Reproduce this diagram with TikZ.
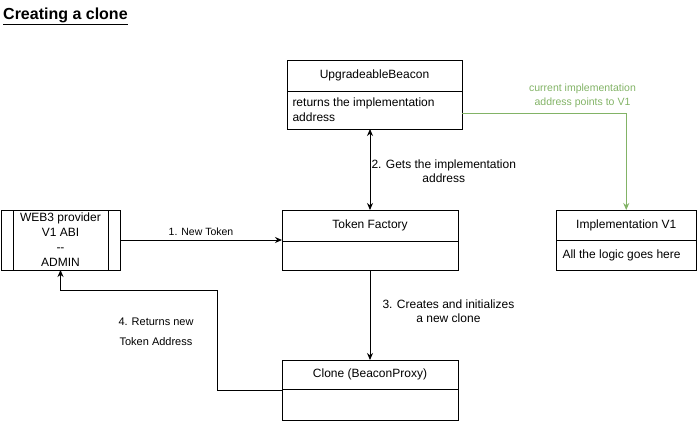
\documentclass[tikz,border=0pt]{standalone}
\usepackage{fontspec}
\setmainfont{Liberation Sans}
\usetikzlibrary{positioning,arrows.meta}

\definecolor{leafgreen}{HTML}{82B366}

\tikzset{
  box/.style={draw=black, line width=1pt, outer sep=0pt, inner sep=0pt},
  hdr/.style={outer sep=0pt, inner sep=0pt, font=\fontsize{12}{14}\selectfont},
  bodytxt/.style={align=left, inner xsep=5.5pt, inner ysep=0pt, outer sep=0pt, font=\fontsize{12}{15}\selectfont},
  arr/.style={line width=1pt, >={Stealth[length=7pt,width=6pt]}},
  garr/.style={arr, draw=leafgreen, ->},
  lbl/.style={align=center, inner sep=1pt, font=\fontsize{12}{14}\selectfont},
  glbl/.style={align=center, inner sep=0pt, text=leafgreen, font=\fontsize{10.5}{14}\selectfont}
}

\begin{document}
\begin{tikzpicture}[x=1pt,y=-1pt]
        \useasboundingbox (0,0) rectangle (697,421);

        \node[anchor=west, inner sep=0pt, font=\bfseries\fontsize{16}{18}\selectfont] (title) at (3,16) {\underline{Creating a clone}};

        % upgradeable beacon
        \node[box, minimum width=175pt, minimum height=69pt] (beacon) at (374.5,94.5) {};
        \node[hdr, minimum width=175pt, minimum height=31pt, below=0pt of beacon.north] (beaconhdr) {UpgradeableBeacon};
        \draw[line width=1pt] (beaconhdr.south west) -- (beaconhdr.south east);
        \node[bodytxt, anchor=south west, minimum height=38pt] (beacontxt) at (beacon.south west) {returns the implementation\\address};

        % token factory
        \node[box, minimum width=176pt, minimum height=60pt] (factory) at (370,240) {};
        \node[hdr, minimum width=176pt, minimum height=31pt, below=0pt of factory.north] (factoryhdr) {Token Factory};
        \draw[line width=1pt] (factoryhdr.south west) -- (factoryhdr.south east);

        % web3 provider
        \node[box, minimum width=119pt, minimum height=60pt, align=center, font=\fontsize{12}{15}\selectfont] (web3) at (60.5,240) {WEB3 provider\\V1 ABI\\{-}{-}\\ADMIN};
        \draw[line width=1pt] ([xshift=12pt]web3.north west) -- ([xshift=12pt]web3.south west);
        \draw[line width=1pt] ([xshift=-12pt]web3.north east) -- ([xshift=-12pt]web3.south east);

        % implementation v1
        \node[box, minimum width=140.5pt, minimum height=60pt] (impl) at (626.25,240) {};
        \node[hdr, minimum width=140.5pt, minimum height=30pt, below=0pt of impl.north] (implhdr) {Implementation V1};
        \draw[line width=1pt] (implhdr.south west) -- (implhdr.south east);
        \node[bodytxt, anchor=south west, minimum height=30pt, inner xsep=6.5pt] (impltxt) at (impl.south west) {All the logic goes here};

        % clone
        \node[box, minimum width=176pt, minimum height=60pt] (clone) at (370,390) {};
        \node[hdr, minimum width=176pt, minimum height=29pt, below=0pt of clone.north] (clonehdr) {Clone (BeaconProxy)};
        \draw[line width=1pt] (clonehdr.south west) -- (clonehdr.south east);

        % connectors
        \draw[arr, ->] (web3.east) -- node[lbl, above=3pt, font=\fontsize{10.5}{13}\selectfont] (lblnew) {1. New Token} (factory.west);
        \draw[arr, <->] (beacon.south -| factory.north) -- node[lbl, right, yshift=-1.5pt] (lblgets) {2. Gets the implementation\\address} (factory.north);
        \draw[arr, ->] (factory.south) -- node[lbl, right=11pt, yshift=4pt] (lblcreate) {3. Creates and initializes\\a new clone} (clone.north);

        \coordinate (retbend) at (217,290);
        \draw[arr, ->] (clone.west) -| (retbend) -| (web3.south);
        \node[lbl, font=\fontsize{11}{20}\selectfont] (lblreturn) at (156,332) {4. Returns new\\Token Address};

        \draw[garr] ([yshift=-18.5pt]beacon.east) -| (impl.north);
        \node[glbl] (lblcurrent) at (582.5,96) {current implementation\\address points to V1};
\end{tikzpicture}
\end{document}
